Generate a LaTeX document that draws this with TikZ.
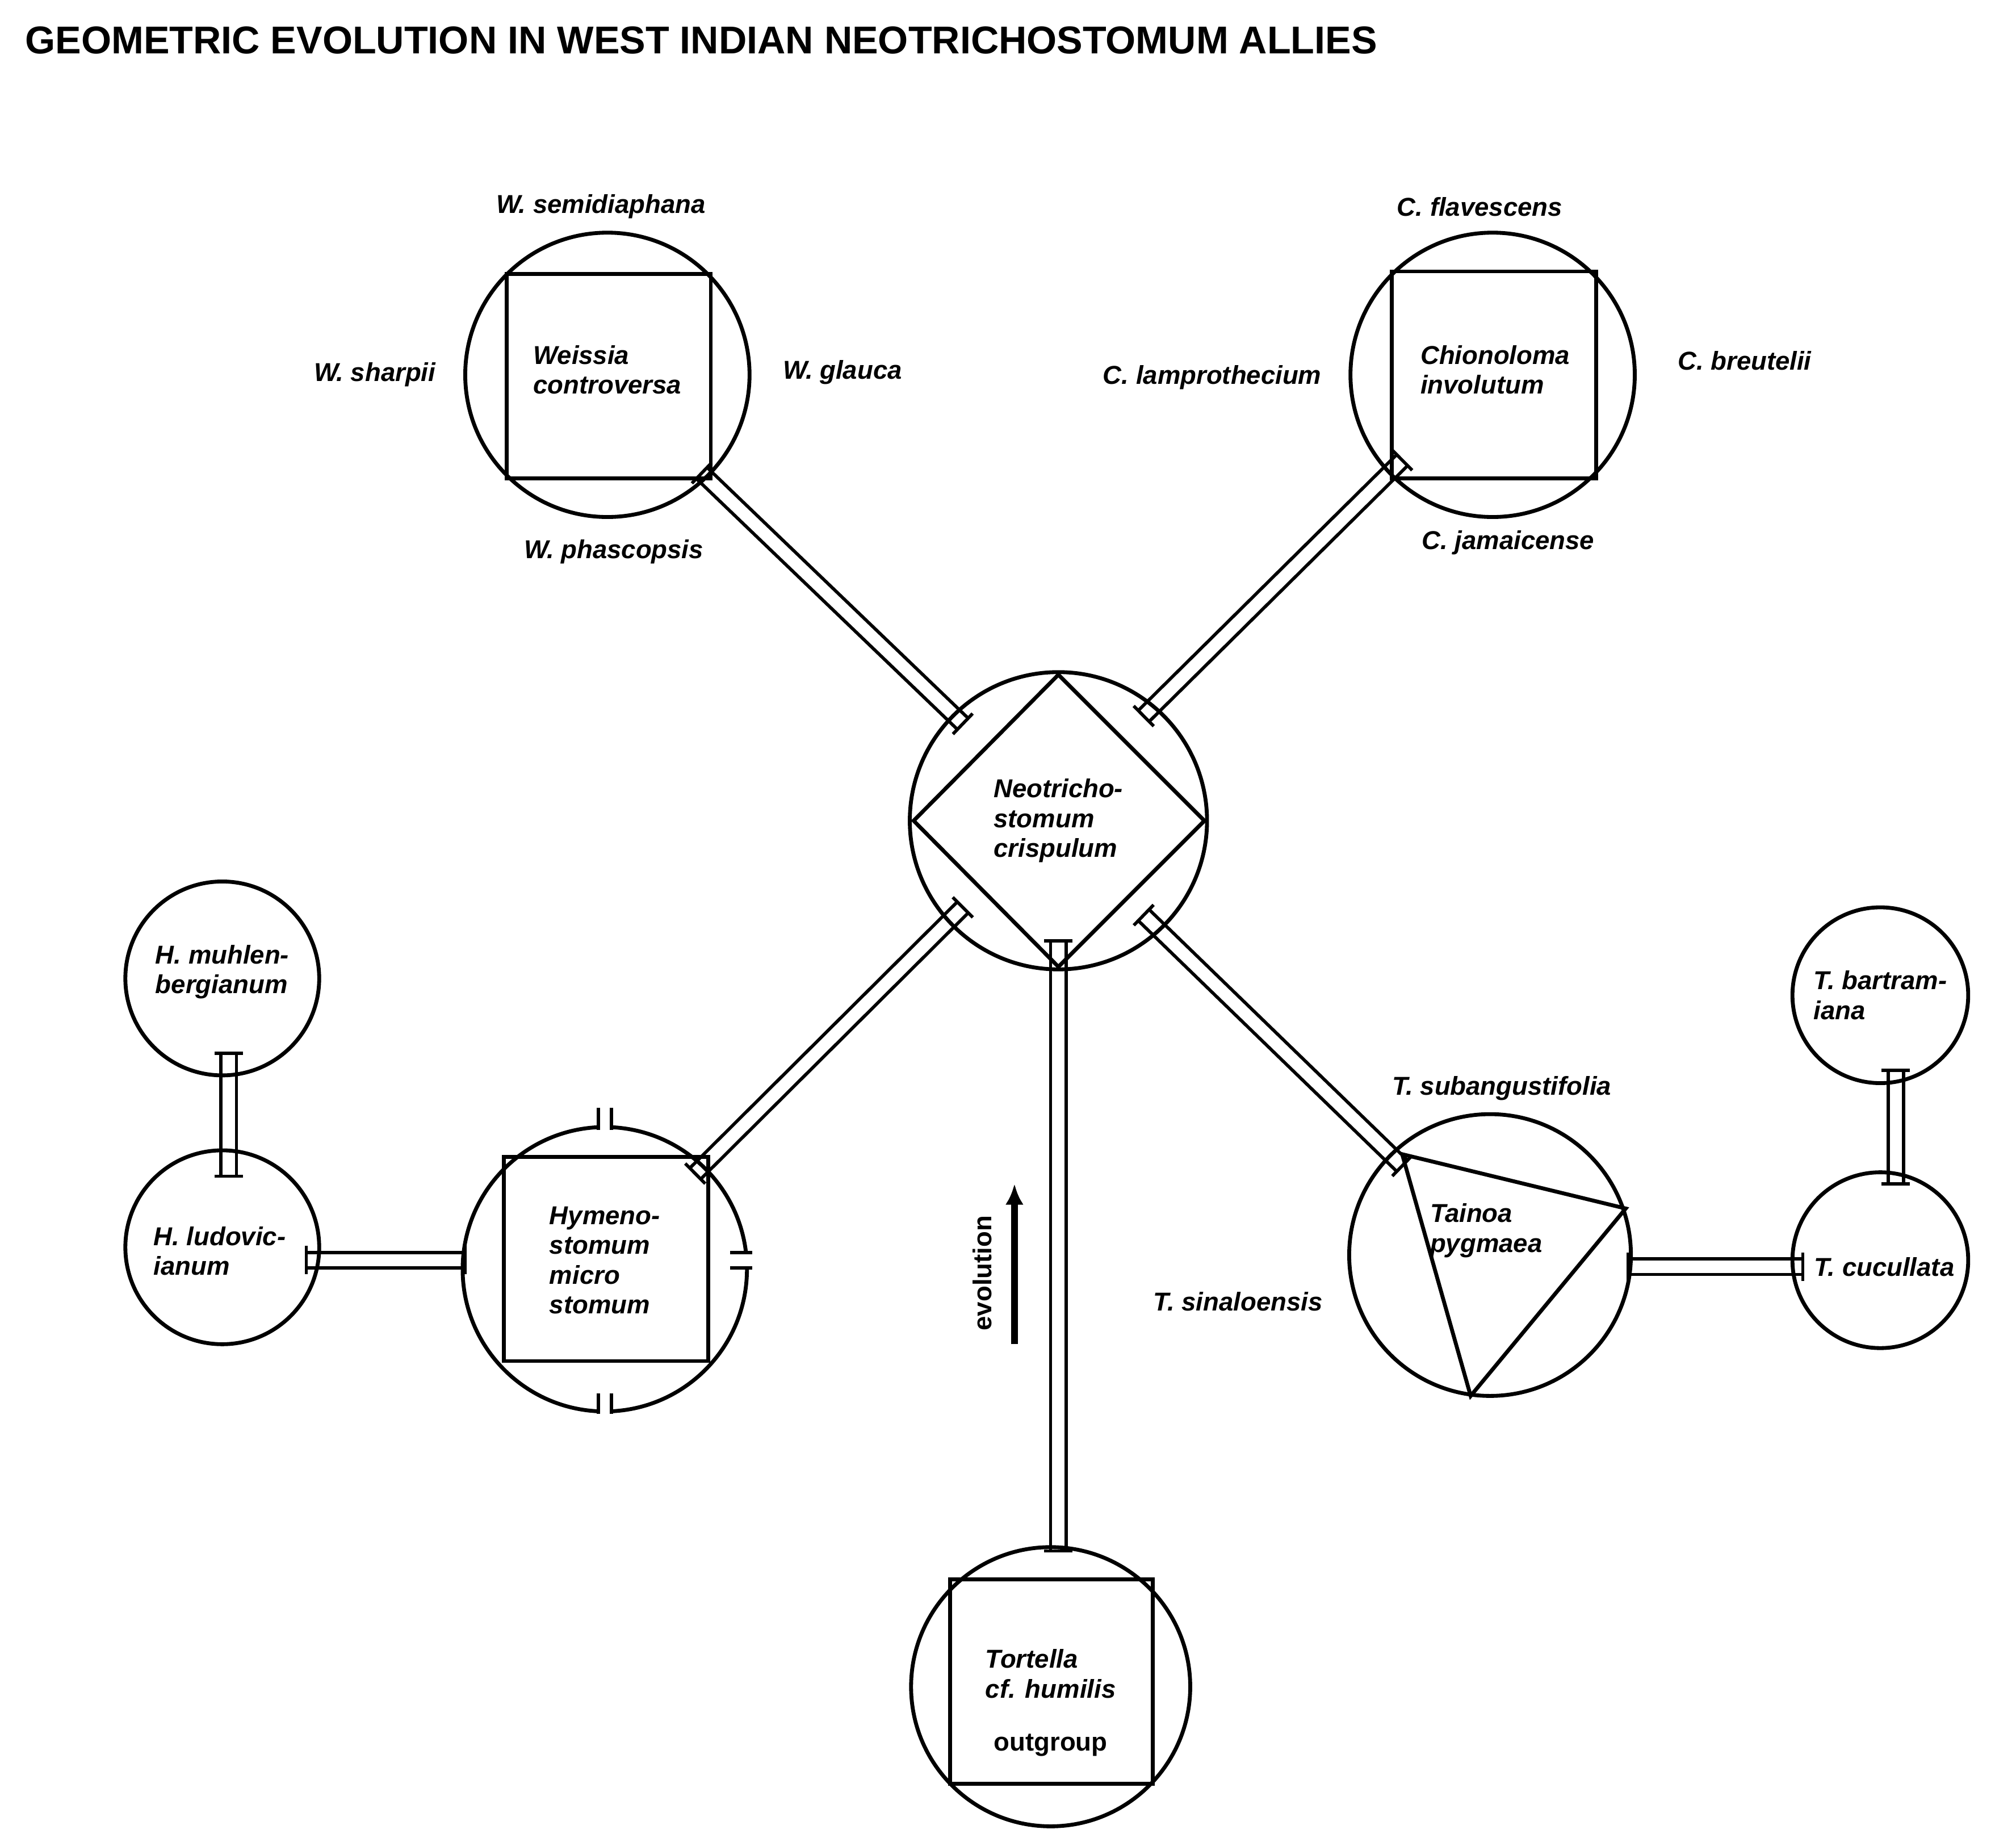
\documentclass[tikz,border=0pt]{standalone}
\usepackage{fontspec}
\setmainfont{Liberation Sans}
\usetikzlibrary{calc,arrows.meta}
\tikzset{
  ring/.style={circle,draw,line width=3pt,inner sep=0pt},
  lbl/.style={font=\fontsize{20}{23}\selectfont\bfseries\itshape,align=left},
  tick/.style={line width=2.5pt},
}
\newcommand\conn[2]{%
  \draw[line width=2.5pt] ($(#1)!6pt!90:(#2)$) -- ($(#2)!6pt!-90:(#1)$);
  \draw[line width=2.5pt] ($(#1)!6pt!-90:(#2)$) -- ($(#2)!6pt!90:(#1)$);
  \draw[tick] ($(#1)!11pt!90:(#2)$) -- ($(#1)!11pt!-90:(#2)$);
  \draw[tick] ($(#2)!11pt!90:(#1)$) -- ($(#2)!11pt!-90:(#1)$);}
\begin{document}
\begin{tikzpicture}[x=1pt,y=-1pt]
\useasboundingbox[fill=white] (0,0) rectangle (1560,1422);
\node[anchor=west,font=\fontsize{30}{34}\selectfont\bfseries] (title) at (16,31) {GEOMETRIC EVOLUTION IN WEST INDIAN NEOTRICHOSTOMUM ALLIES};

% Weissia
\node[ring,minimum size=220pt] (W) at (470,290) {};
\draw[line width=3pt] (392,212) rectangle (550,370);
\node[lbl] (Wt) at (470,286) {Weissia\\controversa};
\node[lbl] (w1) at (465,160) {W. semidiaphana};
\node[lbl] (w2) at (290,290) {W. sharpii};
\node[lbl] (w3) at (652,288) {W. glauca};
\node[lbl] (w4) at (475,427) {W. phascopsis};

% Chionoloma
\node[ring,minimum size=220pt] (C) at (1155,290) {};
\draw[line width=3pt] (1077,210) rectangle (1235,370);
\node[lbl] (Ct) at (1157,286) {Chionoloma\\involutum};
\node[lbl] (c1) at (1145,160) {C. flavescens};
\node[lbl] (c2) at (938,292) {C. lamprothecium};
\node[lbl] (c3) at (1350,279) {C. breutelii};
\node[lbl] (c4) at (1167,420) {C. jamaicense};

% Neotrichostomum
\node[ring,minimum size=230pt] (N) at (819,635) {};
\draw[line width=3pt] (819,522) -- (707,635) -- (819,748) -- (932,635) -- cycle;
\node[lbl] (Nt) at (819,635) {Neotricho-\\stomum\\crispulum};

% Hymenostomum
\node[ring,minimum size=220pt] (Hy) at (468,982) {};
\draw[line width=3pt] (390,895) rectangle (548,1053);
\node[lbl] (Hyt) at (468,975) {Hymeno-\\stomum\\micro\\stomum};
\fill[white] (462,860) rectangle (474,880);
\fill[white] (462,1080) rectangle (474,1100);
\fill[white] (562,969) rectangle (585,981);
\draw[tick] (463,857)--(463,874) (473,857)--(473,874);
\draw[tick] (463,1078)--(463,1094) (473,1078)--(473,1094);
\draw[tick] (565,969)--(582,969) (565,981)--(582,981);

% H. species
\node[ring,minimum size=150pt] (Hm) at (172,757) {};
\node[lbl] (Hmt) at (172,752) {H. muhlen-\\bergianum};
\node[ring,minimum size=150pt] (Hl) at (172,965) {};
\node[lbl] (Hlt) at (170,968) {H. ludovic-\\ianum};

% Tainoa
\node[ring,minimum size=218pt] (T) at (1153,971) {};
\draw[line width=3pt] (1085,893) -- (1258,935) -- (1138,1080) -- cycle;
\node[lbl] (Tt) at (1150,952) {Tainoa\\pygmaea};
\node[lbl] (t1) at (1162,842) {T. subangustifolia};
\node[lbl] (t2) at (958,1007) {T. sinaloensis};
\node[ring,minimum size=136pt] (Tc) at (1455,975) {};
\node[lbl] (Tct) at (1458,980) {T. cucullata};
\node[ring,minimum size=136pt] (Tb) at (1455,770) {};
\node[lbl] (Tbt) at (1455,770) {T. bartram-\\iana};

% Tortella
\node[ring,minimum size=216pt] (To) at (813,1305) {};
\draw[line width=3pt] (735,1222) rectangle (892,1380);
\node[lbl] (Tot) at (813,1295) {Tortella\\cf. humilis};
\node[font=\fontsize{20}{23}\selectfont\bfseries] (og) at (813,1350) {outgroup};

% connectors
\coordinate (a1) at (543,366); \coordinate (a2) at (745,560);
\coordinate (b1) at (1085,356); \coordinate (b2) at (885,554);
\coordinate (c1x) at (745,702); \coordinate (c2x) at (538,908);
\coordinate (d1) at (885,708); \coordinate (d2) at (1085,902);
\coordinate (e1) at (819,728); \coordinate (e2) at (819,1200);
\coordinate (f1) at (237,975); \coordinate (f2) at (360,975);
\coordinate (g1) at (177,815); \coordinate (g2) at (177,910);
\coordinate (h1) at (1260,980); \coordinate (h2) at (1395,980);
\coordinate (i1) at (1467,828); \coordinate (i2) at (1467,916);
\conn{a1}{a2}
\conn{b1}{b2}
\conn{c1x}{c2x}
\conn{d1}{d2}
\conn{e1}{e2}
\conn{f1}{f2}
\conn{g1}{g2}
\conn{h1}{h2}
\conn{i1}{i2}

% evolution arrow
\coordinate (ev1) at (785,1040); \coordinate (ev2) at (785,916);
\draw[line width=5pt,-{Latex[length=16pt,width=14pt]}] (ev1) -- (ev2);
\node[font=\fontsize{20}{23}\selectfont\bfseries,rotate=90] (evt) at (760,985) {evolution};
\end{tikzpicture}
\end{document}
